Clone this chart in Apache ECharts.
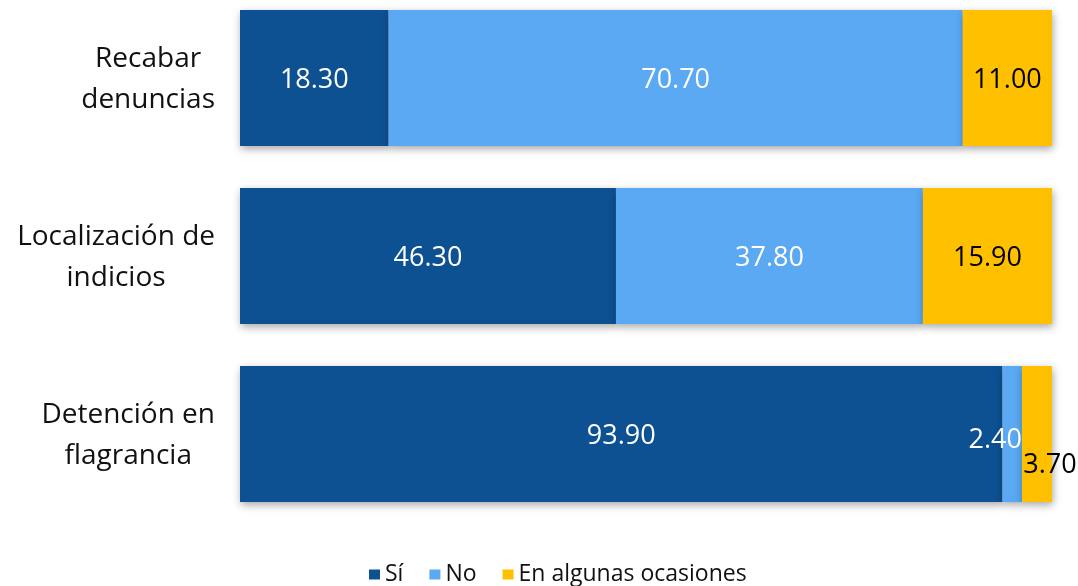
<!DOCTYPE html>
<html><head><meta charset="utf-8">
<script src="https://cdn.jsdelivr.net/npm/echarts@6/dist/echarts.min.js"></script>
<style>html,body{margin:0;padding:0;background:#fff;overflow:hidden}#c{width:1078px;height:597px;margin-top:-11px}</style>
</head><body><div id="c"></div>
<script>
var categories = ['Recabar\ndenuncias', 'Localización de\nindicios', 'Detención en\nflagrancia'];
var seriesNames = ['Sí', 'No', 'En algunas ocasiones'];
var si = [18.3, 46.3, 93.9];
var no = [70.7, 37.8, 2.4];
var ocasiones = [11.0, 15.9, 3.7];
var colors = ['#0D5192', '#5AA9F2', '#FFC000'];

var FONT = 'Open Sans';
var chart = echarts.init(document.getElementById('c'), null, {renderer: 'canvas'});
var shadow = {shadowBlur: 8, shadowColor: 'rgba(0,0,0,0.35)', shadowOffsetY: 3, shadowOffsetX: 1};
function mk(name, vals, color, textColor, specialIdx, specialOffset) {
  return {
    name: name, type: 'bar', stack: 'a', barWidth: 136,
    itemStyle: Object.assign({color: color}, shadow),
    label: {show: true, position: 'inside', color: textColor, fontFamily: FONT, fontSize: 27,
      offset: [0, 2],
      formatter: function (p) { return p.value.toFixed(2); }},
    data: vals.map(function (v, i) {
      var d = {value: v};
      if (i === specialIdx) d.label = {offset: specialOffset};
      return d;
    })
  };
}
chart.setOption({
  animation: false,
  color: colors,
  grid: {left: 240, right: 26, top: 0, bottom: 63, containLabel: false},
  xAxis: {type: 'value', min: 0, max: 100, show: false},
  yAxis: {type: 'category', inverse: true, data: categories,
    axisLine: {show: false}, axisTick: {show: false},
    axisLabel: {margin: 25, align: 'right', fontFamily: FONT, fontSize: 28, color: '#111', padding: [4, 0, 0, 0],
      formatter: function (v) { return v.split('\n').map(function (s) { return '{a|' + s + '}'; }).join('\n'); },
      rich: {a: {align: 'center', fontFamily: FONT, fontSize: 28, lineHeight: 41, color: '#111'}}}},
  legend: {bottom: -5, left: 364, itemWidth: 11, itemHeight: 10, itemGap: 26, icon: 'rect',
    textStyle: {fontFamily: FONT, fontSize: 23, color: '#111', padding: [4, 0, 0, 0]}, data: seriesNames},
  series: [
    mk(seriesNames[0], si, colors[0], '#ffffff', -1),
    mk(seriesNames[1], no, colors[1], '#ffffff', 2, [-17, 6]),
    mk(seriesNames[2], ocasiones, colors[2], '#000000', 2, [13, 31])
  ]
});
</script></body></html>
